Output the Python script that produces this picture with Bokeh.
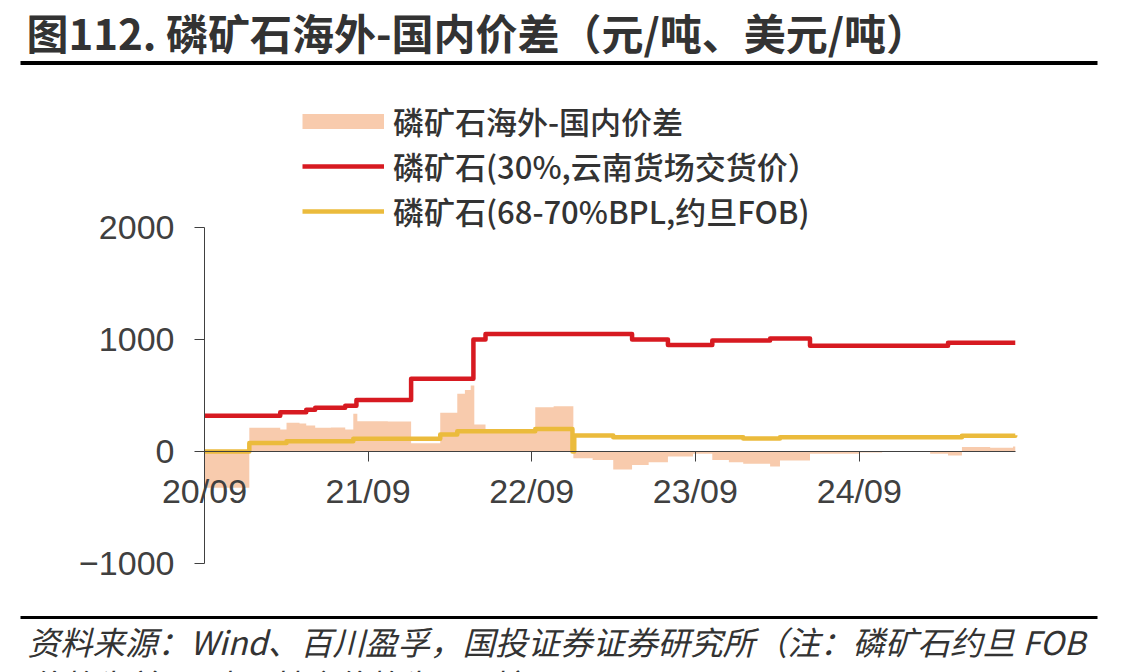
import pandas as pd
from bokeh.plotting import figure
from bokeh.models import (Range1d, LinearAxis, DatetimeAxis, FixedTicker,
                          DatetimeTickFormatter, Label, BoxAnnotation, Legend, LegendItem)
from bokeh.embed import file_html
from bokeh.resources import INLINE

# ---------------- data ----------------
# 磷矿石(30%,云南货场交货价) 元/吨  (step series: change dates and values)
dom_dates = ["2020-09-01", "2021-02-17", "2021-04-16", "2021-05-06", "2021-07-12",
             "2021-08-06", "2021-12-06", "2022-04-24", "2022-05-21", "2023-04-13",
             "2023-07-02", "2023-10-09", "2024-02-15", "2024-05-14", "2025-03-18",
             "2025-08-15"]
dom_vals = [320, 350, 372, 390, 408, 460, 650, 1000, 1050, 1000,
            950, 990, 1010, 945, 970, 970]

# 磷矿石(68-70%BPL,约旦FOB) 美元/吨
fob_dates = ["2020-09-01", "2020-12-10", "2021-03-03", "2021-07-30", "2022-02-09",
             "2022-03-19", "2022-09-09", "2022-12-01", "2022-12-05", "2023-03-02",
             "2023-12-17", "2024-03-08", "2025-04-18", "2025-08-15"]
fob_vals = [0, 75, 92, 113, 152, 180, 202, 0, 143, 128,
            116, 128, 140, 145]

# 磷矿石海外-国内价差 元/吨
spr_dates = ["2020-09-01", "2020-12-10", "2021-02-17", "2021-03-03", "2021-04-01",
             "2021-04-16", "2021-05-06", "2021-06-10", "2021-07-12", "2021-07-30",
             "2021-08-08", "2021-10-15", "2021-12-06", "2022-02-09", "2022-03-19",
             "2022-04-05", "2022-04-18", "2022-04-26", "2022-05-21", "2022-07-20",
             "2022-09-09", "2022-10-20", "2022-12-03", "2023-01-15", "2023-03-02",
             "2023-04-13", "2023-05-20", "2023-07-02", "2023-08-27", "2023-10-09",
             "2023-11-15", "2023-12-17", "2024-02-15", "2024-03-08", "2024-05-14",
             "2024-09-02", "2024-10-22", "2025-02-06", "2025-03-18", "2025-04-18",
             "2025-06-20", "2025-08-10", "2025-08-15"]
spr_vals = [-324, 211, 196, 256, 249,
            232, 211, 215, 196, 336,
            271, 268, 74, 345, 515,
            550, 589, 241, 188, 200,
            396, 405, -60, -75, -160,
            -120, -95, -45, -20, -75,
            -95, -110, -134, -80, -20,
            -10, -2, -20, -35, 40,
            33, 45, 45]

tick_dates = ["2020-09-01", "2021-09-01", "2022-09-01", "2023-09-01", "2024-09-01"]
y_ticks = [-1000, 0, 1000, 2000]

TITLE = "图112. 磷矿石海外-国内价差（元/吨、美元/吨）"
NAMES = ["磷矿石海外-国内价差", "磷矿石(30%,云南货场交货价）", "磷矿石(68-70%BPL,约旦FOB)"]
SOURCE1 = "资料来源：Wind、百川盈孚，国投证券证券研究所（注：磷矿石约旦 FOB"
SOURCE2 = "价格为美元/吨，其余价格为元/吨）"

# ---------------- layout helpers (pixel -> data) ----------------
W, H = 1147, 672
T0 = pd.Timestamp("2020-09-01")
YEAR_PX = 163.7
X0_PX = 204
Y0_PX = 451
PX_PER_UNIT = 0.112
DAY_MS = 86400000.0


def ms(d):
    return pd.Timestamp(d).value / 1e6


def sx(px):
    return ms(T0) + (px - X0_PX) / YEAR_PX * 365.25 * DAY_MS


def sy(py):
    return (Y0_PX - py) / PX_PER_UNIT


PEACH = "#F8CBAD"
RED = "#D71A21"
YELLOW = "#EBBB3C"
TXT = "#333333"
AX = "#404040"
CJK = "Noto Sans CJK SC"

p = figure(width=W, height=H, x_range=Range1d(sx(0), sx(W)), y_range=Range1d(sy(H), sy(0)),
           x_axis_location=None, y_axis_location=None, toolbar_location=None,
           output_backend="svg", min_border=0, outline_line_color=None,
           background_fill_color="white", border_fill_color="white")
p.grid.visible = False

dx = pd.to_datetime(dom_dates)
fx = pd.to_datetime(fob_dates)
spx = pd.to_datetime(spr_dates)

area = p.varea_step(x=spx, y1=[0] * len(spr_vals), y2=spr_vals, step_mode="after",
                    fill_color=PEACH, fill_alpha=1.0)
red = p.step(x=dx, y=dom_vals, mode="after", line_color=RED, line_width=4.5,
             line_join="round")
yel = p.step(x=fx, y=fob_vals, mode="after", line_color=YELLOW, line_width=4.5,
             line_join="round")
# single-point line: invisible on the chart, gives a wide peach bar in the legend
area_proxy = p.line(x=spx[:1], y=spr_vals[:1], line_color=PEACH, line_width=15)

# axes
xaxis = DatetimeAxis(fixed_location=0, ticker=FixedTicker(ticks=[ms(d) for d in tick_dates]),
                     formatter=DatetimeTickFormatter(years="%y/%m", months="%y/%m", days="%y/%m",
                                                     hours="%y/%m", minutes="%y/%m"),
                     bounds=(ms(spr_dates[0]), ms(spr_dates[-1])))
xaxis.axis_line_color = AX
xaxis.major_tick_line_color = AX
xaxis.major_tick_out = 10
xaxis.major_tick_in = 0
xaxis.minor_tick_line_color = None
xaxis.major_label_text_font = "Liberation Sans"
xaxis.major_label_text_font_size = "34px"
xaxis.major_label_text_color = AX
xaxis.major_label_standoff = 10
p.add_layout(xaxis, "below")

yaxis = LinearAxis(fixed_location=ms(spr_dates[0]), ticker=FixedTicker(ticks=y_ticks),
                   bounds=(y_ticks[0], y_ticks[-1]))
yaxis.major_label_overrides = {v: (str(v).replace("-", "\u2212")) for v in y_ticks}
yaxis.axis_line_color = AX
yaxis.major_tick_line_color = AX
yaxis.major_tick_out = 10
yaxis.major_tick_in = 0
yaxis.minor_tick_line_color = None
yaxis.major_label_text_font = "Liberation Sans"
yaxis.major_label_text_font_size = "34px"
yaxis.major_label_text_color = AX
yaxis.major_label_standoff = 20
p.add_layout(yaxis, "left")

# legend (location = bottom-left corner, measured from the bottom of the canvas)
legend = Legend(items=[LegendItem(label=NAMES[0], renderers=[area_proxy]),
                       LegendItem(label=NAMES[1], renderers=[red]),
                       LegendItem(label=NAMES[2], renderers=[yel])],
                location=(302, H - 233), orientation="vertical",
                glyph_width=82, glyph_height=40, label_height=40, spacing=-8,
                label_standoff=9, padding=0, margin=0,
                border_line_color=None, background_fill_alpha=0,
                label_text_font="Noto Sans CJK SC Medium", label_text_font_size="31px",
                label_text_color=TXT)
p.add_layout(legend)

# title, rules, source
p.add_layout(Label(x=sx(26), y=sy(31), text=TITLE, text_font=CJK, text_font_size="42px",
                   text_font_style="bold", text_color=TXT, text_baseline="middle",
                   text_align="left"))
p.add_layout(BoxAnnotation(left=sx(20), right=sx(1097), top=sy(60.5), bottom=sy(64.5),
                           fill_color="black", fill_alpha=1, line_color=None))
p.add_layout(BoxAnnotation(left=sx(20), right=sx(1097), top=sy(615.5), bottom=sy(618.5),
                           fill_color="black", fill_alpha=1, line_color=None))
p.add_layout(Label(x=sx(27), y=sy(640), text=SOURCE1, text_font=CJK, text_font_size="32.5px",
                   text_font_style="italic", text_color=TXT, text_baseline="middle",
                   text_align="left"))
p.add_layout(Label(x=sx(27), y=sy(683), text=SOURCE2, text_font=CJK, text_font_size="32.5px",
                   text_font_style="italic", text_color=TXT, text_baseline="middle",
                   text_align="left"))

open("out.html", "w").write(file_html(p, INLINE))
